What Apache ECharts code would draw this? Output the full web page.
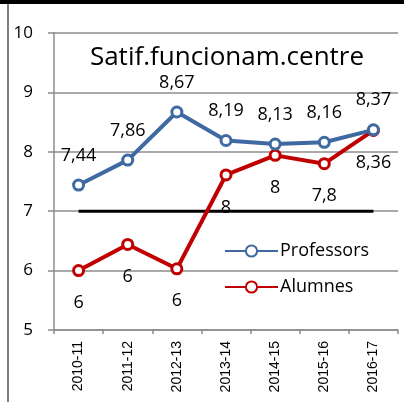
<!DOCTYPE html>
<html>
<head>
<meta charset="utf-8">
<script src="https://cdn.jsdelivr.net/npm/echarts@6/dist/echarts.min.js"></script>
<style>
    html, body { margin: 0; padding: 0; background: #fff; }
    #frame { position: relative; width: 404px; height: 402px; overflow: hidden; }
    #topbar { position: absolute; left: 0; top: 0; width: 404px; height: 4px; background: #000; }
    #leftline { position: absolute; left: 7px; top: 4px; width: 2px; height: 398px; background: #7f7f7f; }
    #chart { position: absolute; left: 0; top: 0; width: 404px; height: 402px; }
</style>
</head>
<body>
<div id="frame">
    <div id="chart"></div>
    <div id="topbar"></div>
    <div id="leftline"></div>
</div>
<script>
    // dades del gràfic
    var cursos = ['2010-11', '2011-12', '2012-13', '2013-14', '2014-15', '2015-16', '2016-17'];
    var professors = [7.44, 7.86, 8.67, 8.19, 8.13, 8.16, 8.37];
    var alumnes = [6.0, 6.44, 6.03, 7.61, 7.94, 7.8, 8.36];
    // etiquetes tal com surten al gràfic original
    var etiquetesProfessors = ['7,44', '7,86', '8,67', '8,19', '8,13', '8,16', '8,37'];
    var etiquetesAlumnes = ['6', '6', '6', '8', '8', '7,8', '8,36'];
    var referencia = [7, 7, 7, 7, 7, 7, 7];
    var eixY = [5, 6, 7, 8, 9, 10];

    var chart = echarts.init(document.getElementById('chart'));

    var font = 'Open Sans';
    var blau = '#3f69a1';
    var vermell = '#c00000';

    var option = {
        animation: false,
        title: {
            text: 'Satif.funcionam.centre',
            left: 222,
            top: 40,
            textAlign: 'center',
            textStyle: { fontFamily: font, fontSize: 26, fontWeight: 'normal', color: '#000' }
        },
        legend: {
            orient: 'vertical',
            left: 219,
            top: 236,
            itemWidth: 53,
            itemHeight: 14,
            itemGap: 16,
            data: ['Professors', 'Alumnes'],
            textStyle: { fontFamily: font, fontSize: 18, color: '#000', lineHeight: 20, padding: [0, 0, 0, -3] }
        },
        grid: { left: 54, right: 6, top: 33, bottom: 72 },
        xAxis: {
            type: 'category',
            data: cursos,
            boundaryGap: true,
            axisLine: { lineStyle: { color: '#8c8c8c', width: 1.5 } },
            axisTick: { show: true, length: 4, lineStyle: { color: '#8c8c8c', width: 1.5 } },
            axisLabel: { rotate: 90, margin: 11, fontFamily: 'Liberation Sans', fontSize: 14, color: '#000' }
        },
        yAxis: {
            type: 'value',
            min: eixY[0],
            max: eixY[eixY.length - 1],
            interval: 1,
            axisLine: { show: true, lineStyle: { color: '#8c8c8c', width: 1.5 } },
            axisTick: { show: true, length: 6, lineStyle: { color: '#8c8c8c', width: 1.5 } },
            axisLabel: { margin: 21, fontFamily: font, fontSize: 17, color: '#000' },
            splitLine: { lineStyle: { color: '#8c8c8c', width: 1.5 } }
        },
        series: [
            {
                name: 'Ref',
                type: 'line',
                data: referencia,
                symbol: 'none',
                lineStyle: { color: '#000', width: 3 },
                silent: true,
                z: 1
            },
            {
                name: 'Professors',
                type: 'line',
                data: professors,
                symbol: 'circle',
                symbolSize: 10,
                itemStyle: { color: '#fff', borderColor: blau, borderWidth: 3 },
                lineStyle: { color: blau, width: 4 },
                label: {
                    show: true,
                    position: 'top',
                    distance: 14,
                    fontFamily: font,
                    fontSize: 18,
                    color: '#000',
                    formatter: function (p) { return etiquetesProfessors[p.dataIndex]; }
                },
                z: 3
            },
            {
                name: 'Alumnes',
                type: 'line',
                data: alumnes,
                symbol: 'circle',
                symbolSize: 10,
                itemStyle: { color: '#fff', borderColor: vermell, borderWidth: 3 },
                lineStyle: { color: vermell, width: 4 },
                label: {
                    show: true,
                    position: 'bottom',
                    distance: 17,
                    fontFamily: font,
                    fontSize: 18,
                    color: '#000',
                    formatter: function (p) { return etiquetesAlumnes[p.dataIndex]; }
                },
                z: 2
            }
        ]
    };

    chart.setOption(option);
</script>
</body>
</html>
